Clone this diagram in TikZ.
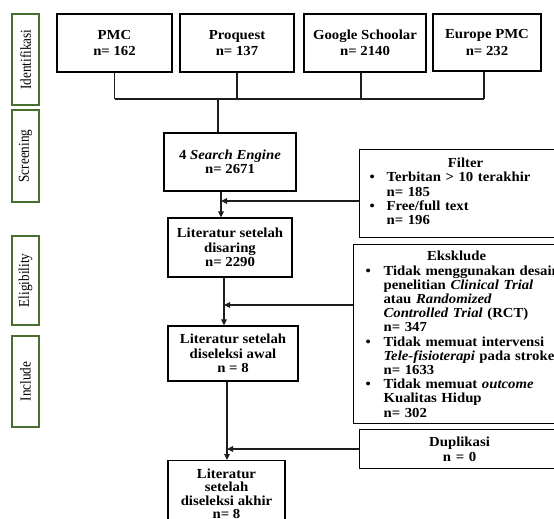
\documentclass[tikz,border=0pt]{standalone}
\usepackage{fontspec}
\setmainfont{Liberation Serif}
\newfontfamily\boxfam{Liberation Serif}[FakeStretch=1.07]
\usetikzlibrary{arrows.meta}
\definecolor{phasegreen}{RGB}{72,110,48}
\definecolor{linegray}{RGB}{30,30,30}
\tikzset{
  box/.style={draw=black, line width=1.1pt, fill=white, align=center, inner sep=2pt,
    font=\boxfam\bfseries\fontsize{13.8}{14.5}\selectfont},
  topbox/.style={box, font=\boxfam\bfseries\fontsize{13.8}{16.5}\selectfont},
  sidebox/.style={draw=black, line width=1.1pt, fill=white, align=left, inner ysep=3pt,
    font=\boxfam\bfseries\fontsize{13.8}{14.4}\selectfont},
  phase/.style={draw=phasegreen, line width=1.1pt, rotate=90, inner sep=0pt,
    minimum height=27pt, font=\fontsize{13.2}{14}\selectfont},
  conn/.style={draw=linegray, line width=1.2pt},
  arr/.style={conn, -{Triangle[length=6pt,width=5.5pt]}}
}
\newcommand\phasetext[1]{\scalebox{1}[1.15]{#1}}
\begin{document}
\begin{tikzpicture}[x=1pt,y=-1pt]
\useasboundingbox (0,0) rectangle (554,519);
\clip (0,0) rectangle (554,519);
\fill[white] (0,0) rectangle (554,519);

% phase labels
\node[phase, minimum width=91pt] (ph1) at (25.5,59.5) {\phasetext{Identifikasi}};
\node[phase, minimum width=92pt] (ph2) at (25.5,156) {\phasetext{Screening}};
\node[phase, minimum width=89pt] (ph3) at (25.5,280.5) {\phasetext{Eligibility}};
\node[phase, minimum width=91pt] (ph4) at (25.5,381.5) {\phasetext{Include}};

% helper coordinates
\coordinate (bus) at (218,99);
\coordinate (m1) at (221,201);
\coordinate (m2) at (224,305);
\coordinate (m3) at (227,449);

% top boxes
\node[topbox, minimum width=115pt, minimum height=58pt] (pmc) at (114.5,43) {PMC\\n= 162};
\node[topbox, minimum width=114pt, minimum height=58pt] (pq) at (237,43) {Proquest\\n= 137};
\node[topbox, minimum width=122pt, minimum height=58pt] (gs) at (365,43) {Google Schoolar\\n= 2140};
\node[topbox, minimum width=108pt, minimum height=57pt] (ep) at (487,42.5) {Europe PMC\\n= 232};

% main column
\node[box, minimum width=132pt, minimum height=58pt] (se) at (230,162) {4 \textit{Search Engine}\\n= 2671};
\node[box, minimum width=124pt, minimum height=59pt] (dis) at (230,247.5) {Literatur setelah\\disaring\\n= 2290};
\node[box, minimum width=130pt, minimum height=55pt] (awal) at (233,353.5) {Literatur setelah\\diseleksi awal\\n = 8};
\node[box, anchor=north, minimum width=117pt, inner ysep=8pt, font=\boxfam\bfseries\fontsize{13.8}{13.5}\selectfont] (akhir) at (226.5,460) {Literatur\\setelah\\diseleksi akhir\\n= 8};

% side boxes
\node[sidebox, anchor=north west, text width=192pt, inner xsep=10pt, minimum height=88pt] (filter) at (359,149)
  {\makebox[192pt]{Filter}\\
   \begin{tabular}[t]{@{}p{17pt}@{}l@{}}
   \textbullet & Terbitan > 10 terakhir\\
   & n= 185\\
   \textbullet & Free/full text\\
   & n= 196
   \end{tabular}};
\node[sidebox, anchor=north west, text width=195pt, inner xsep=12pt, inner ysep=2pt, minimum height=179pt,
      font=\boxfam\bfseries\fontsize{13.8}{14.2}\selectfont] (eks) at (353,244)
  {\rule{0pt}{14pt}\makebox[182pt]{Eksklude}\\
   \begin{tabular}[t]{@{}p{18pt}@{}l@{}}
   \textbullet & Tidak menggunakan desain\\
   & penelitian \textit{Clinical Trial}\\
   & atau \textit{Randomized}\\
   & \textit{Controlled Trial} (RCT)\\
   & n= 347\\
   \textbullet & Tidak memuat intervensi\\
   & \textit{Tele-fisioterapi} pada stroke\\
   & n= 1633\\
   \textbullet & Tidak memuat \textit{outcome}\\
   & Kualitas Hidup\\
   & n= 302
   \end{tabular}};
\node[box, anchor=north west, minimum width=200pt, minimum height=39pt, text width=188pt] (dup) at (359,429)
  {Duplikasi\\n = 0};

% connectors
\draw[conn] (pmc.south) -- (pmc.south |- bus);
\draw[conn] (pq.south) -- (pq.south |- bus);
\draw[conn] (gs.south -| 361,0) -- (361,99);
\draw[conn] (ep.south -| 484,0) -- (484,99);
\draw[conn] (pmc.south |- bus) -- (484,99);
\draw[conn] (bus) -- (se.north -| bus);

\draw[arr] (se.south -| m1) -- (dis.north -| m1);
\draw[arr] (filter.west |- m1) -- (m1);
\draw[arr] (dis.south -| m2) -- (awal.north -| m2);
\draw[arr] (eks.west |- m2) -- (m2);
\draw[arr] (awal.south -| m3) -- (akhir.north -| m3);
\draw[arr] (dup.west |- m3) -- (m3);
\end{tikzpicture}
\end{document}
